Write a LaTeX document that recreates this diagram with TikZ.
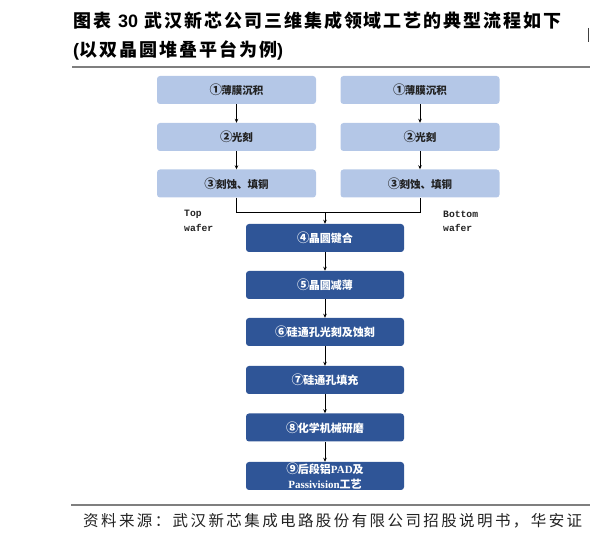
\documentclass[tikz,border=0pt]{standalone}
\usepackage{fontspec}
\setmainfont{Liberation Sans}
\newfontfamily\cjk{Noto Sans CJK SC}
\newfontfamily\latinb{Liberation Sans}
\newfontfamily\serifb{Liberation Serif}
\newfontfamily\monof{Liberation Mono}
\usetikzlibrary{arrows.meta}
\definecolor{lightbox}{HTML}{B4C7E7}
\definecolor{darkbox}{HTML}{2F5597}
\definecolor{rulegray}{HTML}{7F7F7F}
\definecolor{textdark}{HTML}{222222}
\newcommand\circnum[1]{{\fontsize{12.5}{12}\selectfont #1}\kern-0.8pt}
\begin{document}
\begin{tikzpicture}[x=1pt,y=-1pt,
  lbox/.style={fill=lightbox, rounded corners=3pt, minimum width=159pt, minimum height=28pt, inner sep=0pt, font=\cjk\bfseries\fontsize{10.5}{12}\selectfont, text=textdark},
  dbox/.style={fill=darkbox, rounded corners=3pt, minimum width=158pt, minimum height=28pt, inner sep=0pt, font=\cjk\bfseries\fontsize{11}{15}\selectfont, text=white, align=center},
  flow/.style={draw=black, line width=0.8pt, -{Stealth[length=4pt,width=3.5pt]}},
  plainline/.style={draw=black, line width=0.8pt},
  wlabel/.style={font=\monof\bfseries\fontsize{9.7}{11}\selectfont, anchor=west, inner sep=0pt, text=textdark},
  rulestyle/.style={draw=rulegray, line width=2pt},
]
\useasboundingbox (0,0) rectangle (590,540);

% title
\node[anchor=west, inner sep=0pt, font=\cjk\bfseries\fontsize{18}{20}\selectfont, text=black] (t1) at (73,20.8)
 {\makebox[488pt][l]{图\hfill 表\hfill\hspace{5pt}{\latinb\bfseries 30}\hspace{5pt}\hfill 武\hfill 汉\hfill 新\hfill 芯\hfill 公\hfill 司\hfill 三\hfill 维\hfill 集\hfill 成\hfill 领\hfill 域\hfill 工\hfill 艺\hfill 的\hfill 典\hfill 型\hfill 流\hfill 程\hfill 如\hfill 下}};
\node[anchor=west, inner sep=0pt, font=\cjk\bfseries\fontsize{18}{20}\selectfont, text=black] (t2) at (73,50.8)
 {\makebox[210pt][l]{{\latinb\bfseries (}以\hfill 双\hfill 晶\hfill 圆\hfill 堆\hfill 叠\hfill 平\hfill 台\hfill 为\hfill 例{\latinb\bfseries )}}};
\draw[rulestyle] (72,67) -- (590,67);
\draw[draw=black!75, line width=1.3pt] (588.5,28) -- (588.5,42);

% left column
\node[lbox] (L1) at (236.5,90) {\circnum{①}薄膜沉积};
\node[lbox] (L2) at (236.5,137) {\circnum{②}光刻};
\node[lbox] (L3) at (236.5,183.5) {\circnum{③}刻蚀、填铜};
% right column
\node[lbox] (R1) at (420,90) {\circnum{①}薄膜沉积};
\node[lbox] (R2) at (420,137) {\circnum{②}光刻};
\node[lbox] (R3) at (420,183.5) {\circnum{③}刻蚀、填铜};

\node[wlabel] (tw1) at (184,214) {Top};
\node[wlabel] (tw2) at (184,228) {wafer};
\node[wlabel] (bw1) at (443,214) {Bottom};
\node[wlabel] (bw2) at (443,228) {wafer};

% main column
\node[dbox] (D4) at (325,238) {\circnum{④}晶圆键合};
\node[dbox] (D5) at (325,285) {\circnum{⑤}晶圆减薄};
\node[dbox] (D6) at (325,332) {\circnum{⑥}硅通孔光刻及蚀刻};
\node[dbox] (D7) at (325,380) {\circnum{⑦}硅通孔填充};
\node[dbox] (D8) at (325,427.5) {\circnum{⑧}化学机械研磨};
\node[dbox] (D9) at (325,476) {\circnum{⑨}后段铝{\serifb\bfseries PAD}及\\{\serifb\bfseries Passivision}工艺};

\coordinate (M) at (325,212.7);

\draw[flow] (L1) -- (L2);
\draw[flow] (L2) -- (L3);
\draw[flow] (R1) -- (R2);
\draw[flow] (R2) -- (R3);
\draw[plainline] (L3.south) |- (M) -| (R3.south);
\draw[flow] (M) -- (D4.north);
\draw[flow] (D4) -- (D5);
\draw[flow] (D5) -- (D6);
\draw[flow] (D6) -- (D7);
\draw[flow] (D7) -- (D8);
\draw[flow] (D8) -- (D9);

% source
\draw[rulestyle, line width=1.6pt] (71,505) -- (590,505);
\node[anchor=west, inner sep=0pt, font=\cjk\fontsize{15.5}{17}\selectfont, text=textdark] (src) at (83,520.5)
 {\makebox[499pt][l]{资\hfill 料\hfill 来\hfill 源\hfill ：\hfill 武\hfill 汉\hfill 新\hfill 芯\hfill 集\hfill 成\hfill 电\hfill 路\hfill 股\hfill 份\hfill 有\hfill 限\hfill 公\hfill 司\hfill 招\hfill 股\hfill 说\hfill 明\hfill 书\hfill ，\hfill 华\hfill 安\hfill 证}};
\end{tikzpicture}
\end{document}
